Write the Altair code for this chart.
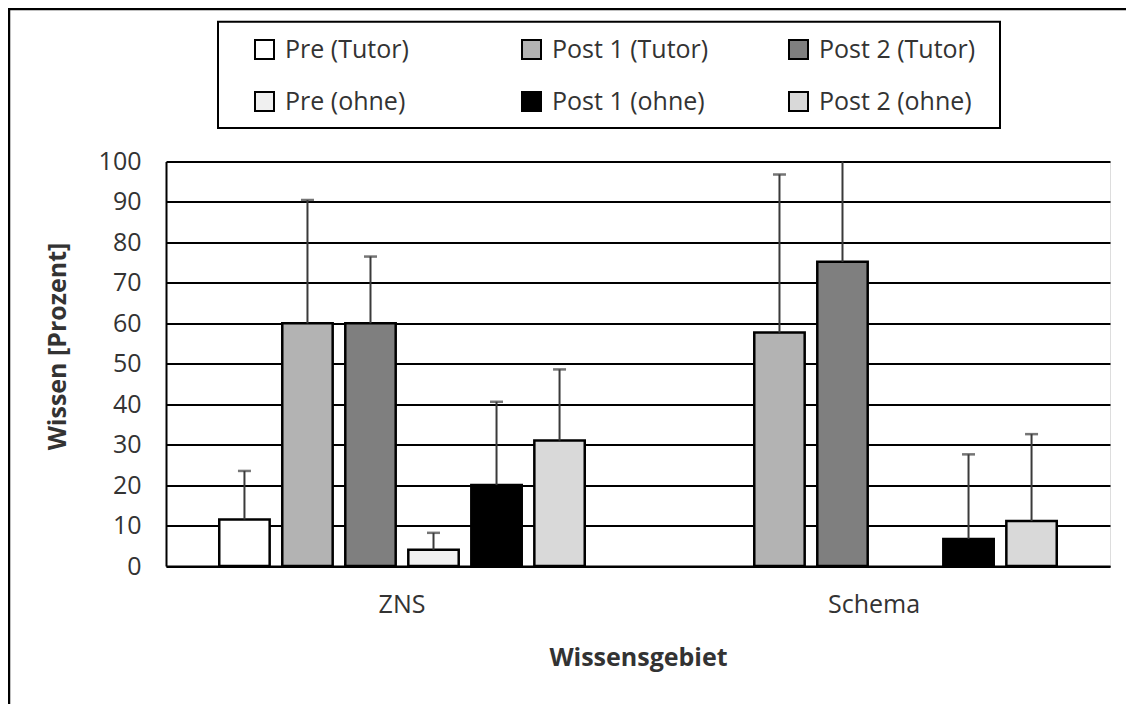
import altair as alt
import pandas as pd

categories = ["ZNS", "Schema"]
series = ["Pre (Tutor)", "Post 1 (Tutor)", "Post 2 (Tutor)",
          "Pre (ohne)", "Post 1 (ohne)", "Post 2 (ohne)"]
zns_values = [11.5, 60, 60, 4, 20, 31]
zns_upper = [23.5, 90.5, 76.5, 8.2, 40.6, 48.6]
schema_values = [None, 57.7, 75.2, None, 6.7, 11.1]
schema_upper = [None, 96.8, 103, None, 27.6, 32.6]
colors = ["#ffffff", "#b3b3b3", "#7f7f7f", "#f0f0f0", "#000000", "#d9d9d9"]
y_ticks = list(range(0, 101, 10))

rows = []
for cat, vals, ups in [("ZNS", zns_values, zns_upper),
                       ("Schema", schema_values, schema_upper)]:
    for s, v, u in zip(series, vals, ups):
        if v is None:
            continue
        rows.append({"Wissensgebiet": cat, "Serie": s, "Wert": v, "Oben": u})
df = pd.DataFrame(rows)

FONT = "Open Sans"
TXT = "#333333"

x_axis = alt.Axis(title="Wissensgebiet", labelAngle=0, ticks=False,
                  domainColor="black", domainWidth=2,
                  labelPadding=26, labelFontSize=25, labelFont=FONT,
                  labelColor=TXT, titleFont=FONT, titleFontSize=25,
                  titleFontWeight="bold", titleColor=TXT,
                  titleY=91, titleBaseline="middle")
y_axis = alt.Axis(values=y_ticks, title="Wissen [Prozent]", grid=True,
                  gridColor="black", gridWidth=2, domainColor="black",
                  domainWidth=2, ticks=False, labelPadding=25,
                  labelFont=FONT, labelFontSize=25, labelColor=TXT,
                  titleFont=FONT, titleFontSize=25, titleFontWeight="bold",
                  titleColor=TXT, titleX=-109, titleY=184.5,
                  titleAngle=270, titleBaseline="middle")
x_scale = alt.Scale(domain=categories, paddingInner=0, paddingOuter=0)
xo_scale = alt.Scale(domain=series, paddingInner=0.2, paddingOuter=0.845)
y_scale = alt.Scale(domain=[0, 100], nice=False)

x_enc = alt.X("Wissensgebiet:N", sort=categories, scale=x_scale, axis=x_axis)
xo_enc = alt.XOffset("Serie:N", sort=series, scale=xo_scale)

bars = alt.Chart(df).mark_bar(stroke="black", strokeWidth=2.5).encode(
    x=x_enc,
    xOffset=xo_enc,
    y=alt.Y("Wert:Q", scale=y_scale, axis=y_axis),
    color=alt.Color("Serie:N", sort=series,
                    scale=alt.Scale(domain=series, range=colors),
                    legend=alt.Legend(title=None, orient="none", legendX=86,
                                      legendY=-124.5, columns=3,
                                      direction="horizontal", symbolType="square",
                                      symbolSize=361, symbolStrokeColor="black",
                                      symbolStrokeWidth=2, labelFont=FONT,
                                      labelFontSize=25, labelColor=TXT,
                                      columnPadding=76, rowPadding=25,
                                      gridAlign="all", padding=0, labelOffset=8)),
)

rules = alt.Chart(df).mark_rule(color="#3a3a3a", strokeWidth=2, clip=True).encode(
    x=x_enc,
    xOffset=xo_enc,
    y=alt.Y("Wert:Q", scale=y_scale, axis=y_axis),
    y2="Oben:Q",
)

caps = alt.Chart(df).mark_tick(color="#3a3a3a", thickness=2.5, size=13,
                               clip=True, orient="horizontal").encode(
    x=x_enc,
    xOffset=xo_enc,
    y=alt.Y("Oben:Q", scale=y_scale, axis=y_axis),
)

one = pd.DataFrame({"k": [0]})
frame = alt.Chart(one).mark_rect(fill=None, stroke="black", strokeWidth=2.5).encode(
    x=alt.value(-157), x2=alt.value(2000), y=alt.value(-152.5), y2=alt.value(2000))
legend_box = alt.Chart(one).mark_rect(fill="white", stroke="black", strokeWidth=2).encode(
    x=alt.value(52), x2=alt.value(834), y=alt.value(-139.8), y2=alt.value(-33.5))

chart = alt.layer(frame, legend_box, bars, rules, caps).properties(
    width=944, height=404.5,
    padding={"left": 158, "top": 153.5, "right": 16, "bottom": 138},
    autosize=alt.AutoSizeParams(type="none"),
).configure_view(stroke=None).configure(background="white")

chart.save("out.html", embed_options={"renderer": "svg", "actions": False})
